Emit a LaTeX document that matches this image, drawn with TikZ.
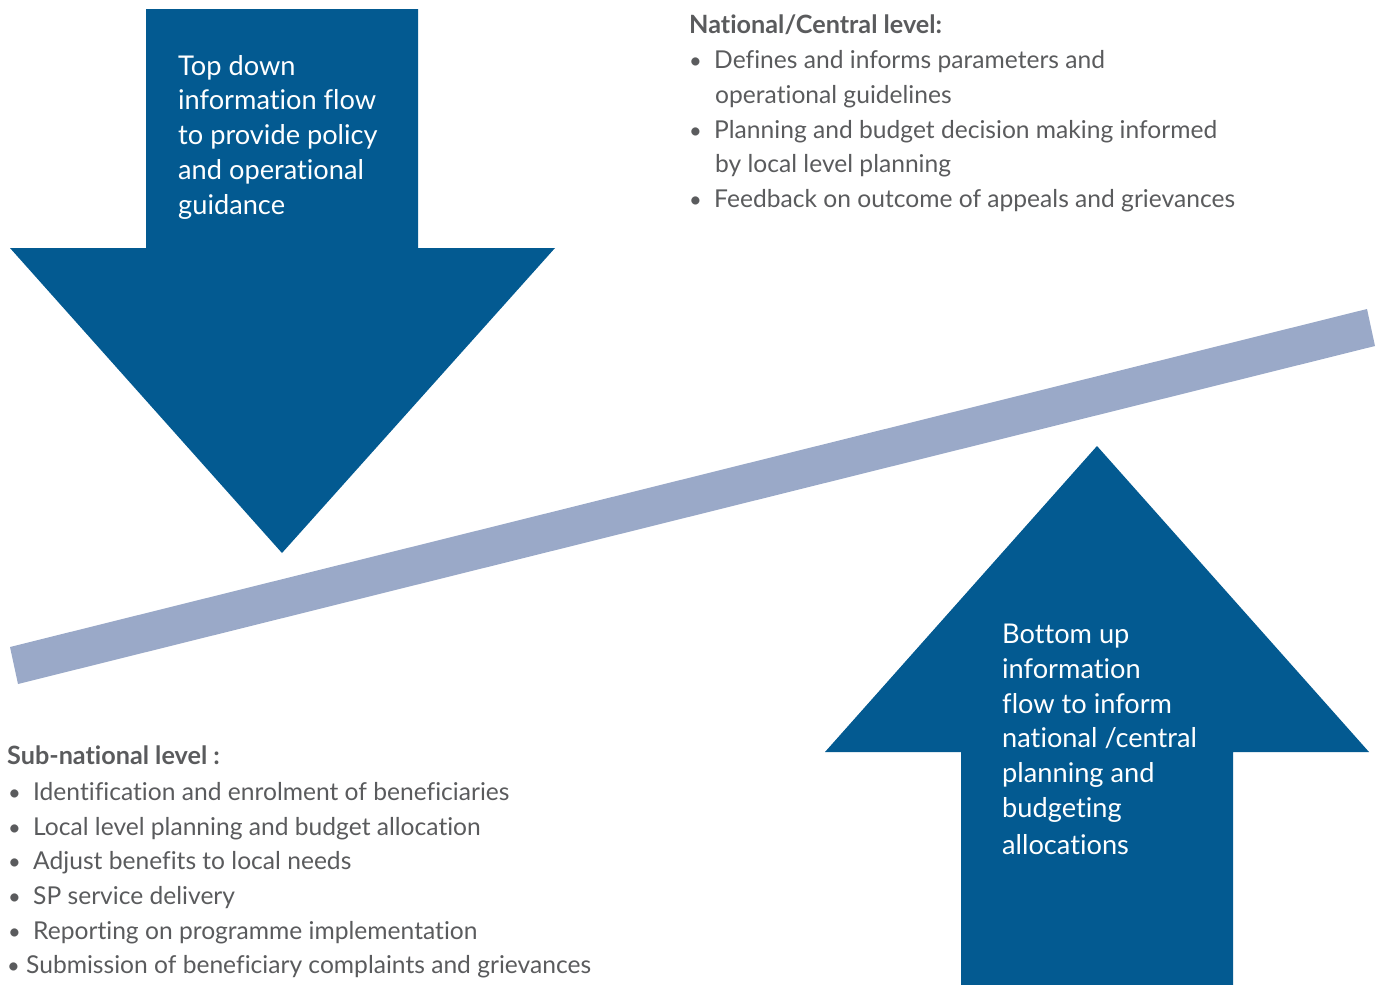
\documentclass[tikz,border=0pt]{standalone}
\usepackage{fontspec}
\setmainfont{Lato}[Ligatures=NoCommon]
\definecolor{arrowblue}{HTML}{035A91}
\definecolor{beamblue}{HTML}{9AA9C8}
\definecolor{txtgray}{HTML}{5A5B5D}
\tikzset{
  arrowshape/.style={fill=arrowblue, draw=none},
  beamshape/.style={fill=beamblue, draw=none},
  bodytxt/.style={anchor=base west, inner sep=0pt, text=txtgray, font=\fontsize{24.6}{28}\selectfont},
  headtxt/.style={anchor=base west, inner sep=0pt, text=txtgray, font=\fontsize{25.2}{28}\selectfont\bfseries},
  arrowtxt/.style={anchor=base west, inner sep=0pt, text=white, font=\fontsize{27.2}{30}\selectfont},
  bul/.style={anchor=base west, inner sep=0pt, text=txtgray, font=\fontsize{22}{28}\selectfont}
}
\begin{document}
\begin{tikzpicture}[x=1pt,y=-1pt]
\useasboundingbox (0,0) rectangle (1382,985);
% beam
\fill[beamshape] (10,647) -- (18,684) -- (1375,346) -- (1367,309) -- cycle;
% top-down arrow
\fill[arrowshape] (146,9) -- (418,9) -- (418,248) -- (555,248) -- (282,553) -- (10,248) -- (146,248) -- cycle;
% bottom-up arrow
\fill[arrowshape] (961,985) -- (961,752) -- (825,752) -- (1097,446) -- (1369,752) -- (1233,752) -- (1233,985) -- cycle;
% arrow texts
\node[arrowtxt] (td1) at (178,75) {Top down};
\node[arrowtxt] (td2) at (178,109) {information flow};
\node[arrowtxt] (td3) at (178,144) {to provide policy};
\node[arrowtxt] (td4) at (178,179) {and operational};
\node[arrowtxt] (td5) at (178,214) {guidance};
\node[arrowtxt] (bu1) at (1002,643) {Bottom up};
\node[arrowtxt] (bu2) at (1002,678) {information};
\node[arrowtxt] (bu3) at (1002,713) {flow to inform};
\node[arrowtxt] (bu4) at (1002,747) {national /central};
\node[arrowtxt] (bu5) at (1002,782) {planning and};
\node[arrowtxt] (bu6) at (1002,817) {budgeting};
\node[arrowtxt] (bu7) at (1002,854) {allocations};
% national
\node[headtxt] (nh) at (689,33) {National/Central level:};
\node[bul] (nb1) at (689,68) {\textbullet};
\node[bodytxt] (n1) at (714,68) {Defines and informs parameters and};
\node[bodytxt] (n1b) at (715,103) {operational guidelines};
\node[bul] (nb2) at (689,138) {\textbullet};
\node[bodytxt] (n2) at (714,138) {Planning and budget decision making informed};
\node[bodytxt] (n2b) at (715,172) {by local level planning};
\node[bul] (nb3) at (689,207) {\textbullet};
\node[bodytxt] (n3) at (714,207) {Feedback on outcome of appeals and grievances};
% sub-national
\node[headtxt] (sh) at (7,764) {Sub-national level :};
\node[bul] (sb1) at (8,800) {\textbullet};
\node[bodytxt] (s1) at (33,800) {Identification and enrolment of beneficiaries};
\node[bul] (sb2) at (8,835) {\textbullet};
\node[bodytxt] (s2) at (33,835) {Local level planning and budget allocation};
\node[bul] (sb3) at (8,869) {\textbullet};
\node[bodytxt] (s3) at (33,869) {Adjust benefits to local needs};
\node[bul] (sb4) at (8,904) {\textbullet};
\node[bodytxt] (s4) at (33,904) {SP service delivery};
\node[bul] (sb5) at (8,939) {\textbullet};
\node[bodytxt] (s5) at (33,939) {Reporting on programme implementation};
\node[bul] (sb6) at (7,973) {\textbullet};
\node[bodytxt] (s6) at (26,973) {Submission of beneficiary complaints and grievances};
\end{tikzpicture}
\end{document}
